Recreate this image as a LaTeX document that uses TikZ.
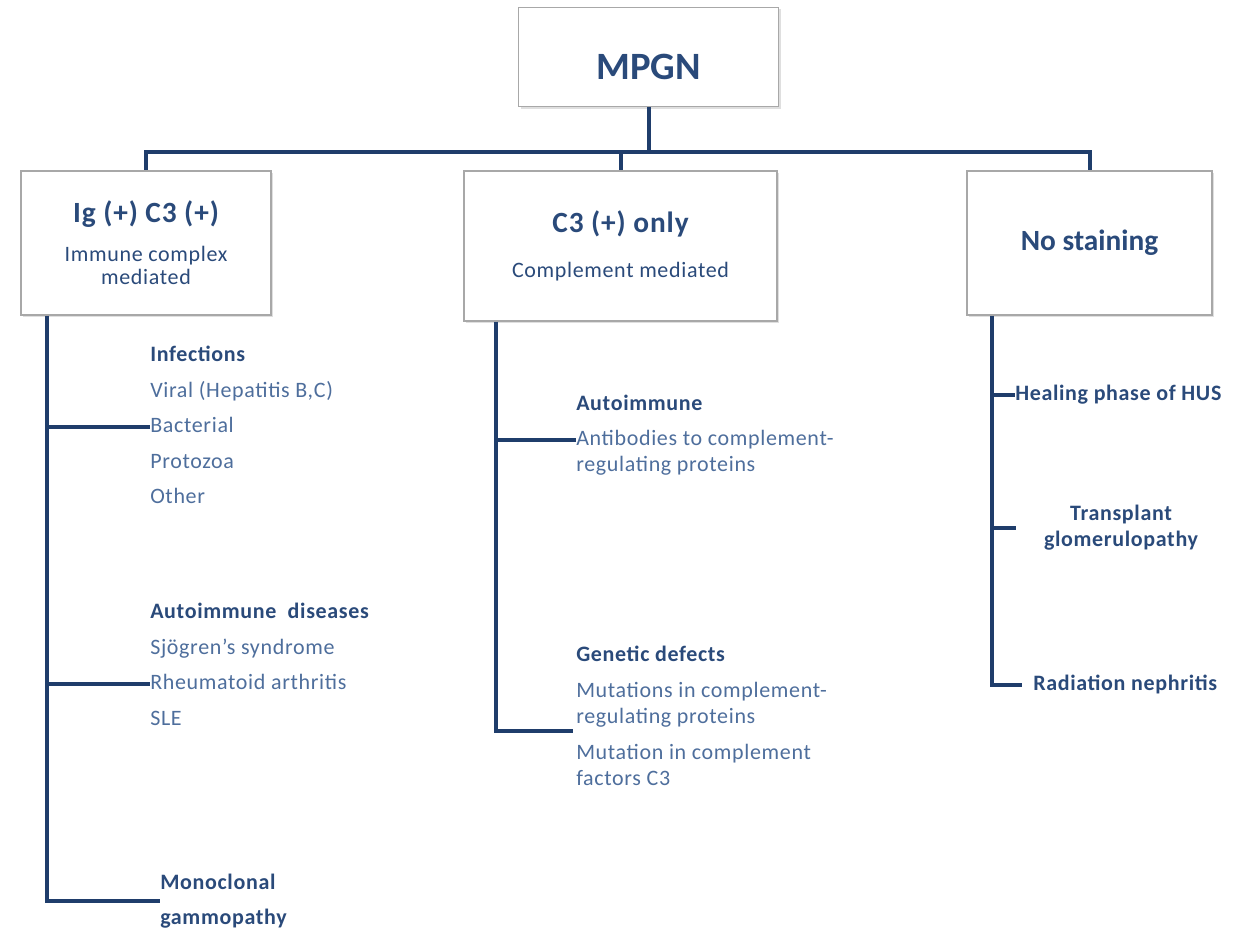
\documentclass[tikz,border=0pt]{standalone}
\usepackage{fontspec}
\setmainfont{Carlito}
\newfontfamily\bodyfont[LetterSpace=3]{Carlito}
\usetikzlibrary{positioning,calc,shadows}
\definecolor{navy}{HTML}{1F3D6B}
\definecolor{ink}{HTML}{2A4A7A}
\definecolor{soft}{HTML}{4E6E9C}
\definecolor{frame}{HTML}{A8A8A8}
\newcommand{\titlefont}{\fontsize{22}{26}\selectfont\bfseries}
\newcommand{\subfont}{\bodyfont\fontsize{16.5}{17.25}\selectfont\mdseries\color{soft}}
\tikzset{
  panel/.style  ={draw=frame, fill=white, line width=0.8pt, align=center, text=ink, inner sep=0pt,
                  drop shadow={opacity=0.25,shadow xshift=1.5pt,shadow yshift=-1.5pt}},
  link/.style   ={draw=navy, line width=3pt},
  head/.style   ={font=\bodyfont\fontsize{16.5}{20}\selectfont\bfseries, text=ink, inner sep=0pt, anchor=west,
                  text height=12.5pt, text depth=4pt},
  item/.style   ={font=\bodyfont\fontsize{16.5}{20}\selectfont, text=soft, inner sep=0pt, anchor=west,
                  text height=12.5pt, text depth=4pt},
}
\begin{document}
\begin{tikzpicture}[x=0.75pt, y=-0.75pt]
\useasboundingbox (0,0) rectangle (1234,931);
% boxes
\node[panel, minimum width=195pt, minimum height=74.25pt, text height=34pt, text depth=0pt] (mpgn) at (648.5,57)
  {\fontsize{29}{34}\selectfont\bfseries MPGN};
\node[panel, minimum width=187.5pt, minimum height=108pt, font=\subfont] (igc3) at (146,243)
  {{\titlefont Ig (+) C3 (+)}\\[12pt]Immune complex\\mediated};
\node[panel, minimum width=234.75pt, minimum height=112.5pt, font=\subfont] (c3only) at (620.5,246)
  {{\titlefont C3 (+) only}\\[16pt]Complement mediated};
\node[panel, minimum width=183.75pt, minimum height=108pt] (nostain) at (1089.5,243)
  {\titlefont No staining};
% top bus
\coordinate (bus) at ($(mpgn.south)+(0,45)$);
\draw[link] (mpgn.south) -- (bus);
\draw[link] (bus) -| (igc3.north);
\draw[link] (bus) -| (nostain.north);
\draw[link] (bus -| c3only.north) -- (c3only.north);
% left column
\node[head] (inf) at (150,356) {Infections};
\node[item, below=9.75pt of inf.south west, anchor=north west] (viral) {Viral (Hepatitis B,C)};
\node[item, below=9.75pt of viral.south west, anchor=north west] (bact) {Bacterial};
\node[item, below=9.75pt of bact.south west, anchor=north west] (proto) {Protozoa};
\node[item, below=9.75pt of proto.south west, anchor=north west] (other) {Other};
\node[head] (autod) at (150,613) {Autoimmune\ \ diseases};
\node[item, below=9.75pt of autod.south west, anchor=north west] (sjo) {Sjögren’s syndrome};
\node[item, below=9.75pt of sjo.south west, anchor=north west] (rheu) {Rheumatoid arthritis};
\node[item, below=9.75pt of rheu.south west, anchor=north west] (sle) {SLE};
\node[font=\bodyfont\fontsize{16.5}{26.25}\selectfont\bfseries, text=ink, inner sep=0pt, anchor=west, align=left] (mono) at (160,901) {Monoclonal\\gammopathy};
\coordinate (ltop) at ($(igc3.south west)+(27,0)$);
\draw[link] (ltop) |- (mono.west);
\draw[link] (ltop |- bact.west) -- (bact.west);
\draw[link] (ltop |- rheu.west) -- (rheu.west);
% middle column
\node[head] (auto) at (576,405) {Autoimmune};
\node[item, below=9pt of auto.south west, anchor=north west] (ab1) {Antibodies to complement-};
\node[item, below=3pt of ab1.south west, anchor=north west] (ab2) {regulating proteins};
\node[head] (gen) at (576,656) {Genetic defects};
\node[item, below=9.75pt of gen.south west, anchor=north west] (mut1) {Mutations in complement-};
\node[item, below=3pt of mut1.south west, anchor=north west] (mut2) {regulating proteins};
\node[item, below=9.75pt of mut2.south west, anchor=north west] (mut3) {Mutation in complement};
\node[item, below=3pt of mut3.south west, anchor=north west] (mut4) {factors C3};
\coordinate (mtop) at ($(c3only.south west)+(33,0)$);
\coordinate (gend) at ([xshift=-2pt,yshift=-1pt]mut2.south west);
\draw[link] (mtop |- ab1.west) -- (ab1.west);
\draw[link] (mtop) |- (gend);
% right column
\node[head] (hus) at (1015,395) {Healing phase of HUS};
\node[font=\bodyfont\fontsize{16.5}{19.5}\selectfont\bfseries, text=ink, inner sep=0pt, align=center] (trans) at (1121,528) {Transplant\\glomerulopathy};
\node[head] (rad) at (1033,685) {Radiation nephritis};
\coordinate (rtop) at ($(nostain.south west)+(26,0)$);
\coordinate (tstub) at ($(rtop |- trans)+(24,0)$);
\coordinate (radend) at ([xshift=-8pt]rad.west);
\draw[link] (rtop |- hus.west) -- (hus.west);
\draw[link] (rtop |- trans) -- (tstub);
\draw[link] (rtop) |- (radend);
\end{tikzpicture}
\end{document}
